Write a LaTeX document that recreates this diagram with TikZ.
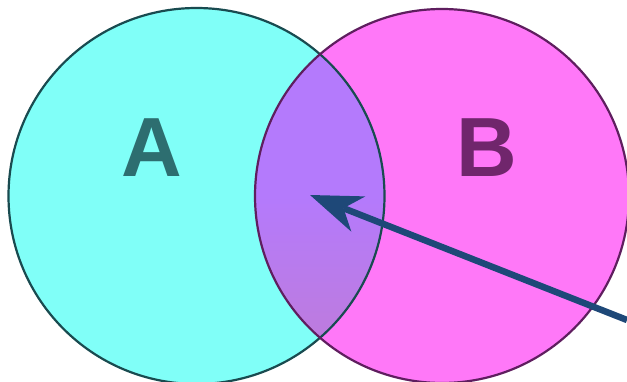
\documentclass[tikz,border=0pt]{standalone}
\usepackage{fontspec}
\setmainfont{Liberation Sans}
\usepackage{xcolor}
\usepackage{tikz}
\usetikzlibrary{arrows.meta,positioning,calc}
\definecolor{setacyan}{RGB}{128,255,248}
\definecolor{setbpink}{RGB}{255,120,248}
\definecolor{overtop}{RGB}{180,122,252}
\definecolor{overbot}{RGB}{192,124,212}
\definecolor{aline}{RGB}{25,75,80}
\definecolor{bline}{RGB}{95,30,95}
\definecolor{aletter}{RGB}{45,110,112}
\definecolor{bletter}{RGB}{112,38,108}
\definecolor{pointblue}{RGB}{30,72,120}

\begin{document}
\begin{tikzpicture}[x=1pt,y=-1pt,
  setlbl/.style={font=\fontsize{84}{84}\selectfont\bfseries,inner sep=0pt},
  rim/.style={line width=2.2pt},
  pointer/.style={line width=6.5pt,pointblue,
                  -{Stealth[length=52pt,width=38pt,inset=16pt,line width=0pt]}}
]
\useasboundingbox (0,0) rectangle (627,382);
\fill[white] (0,0) rectangle (627,382);

\coordinate (cA) at (196.5,196);
\coordinate (cB) at (442,196);

% the two sets
\fill[setacyan] (cA) circle [radius=188];
\fill[setbpink] (cB) circle [radius=187];
\begin{scope}
  \clip (cA) circle [radius=188];
  \shade[top color=overtop,bottom color=overbot,middle color=overtop]
    (cB) circle [radius=187];
\end{scope}
\draw[rim,aline] (cA) circle [radius=188];
\draw[rim,bline] (cB) circle [radius=187];

\node[setlbl,text=aletter] (lblA) at (152,148) {A};
\node[setlbl,text=bletter] (lblB) at (487,148) {B};

% pointer into the overlap
\coordinate (tail) at (627,320);
\coordinate (tip) at (310,195);
\draw[pointer] (tail) -- (tip);
\end{tikzpicture}
\end{document}
